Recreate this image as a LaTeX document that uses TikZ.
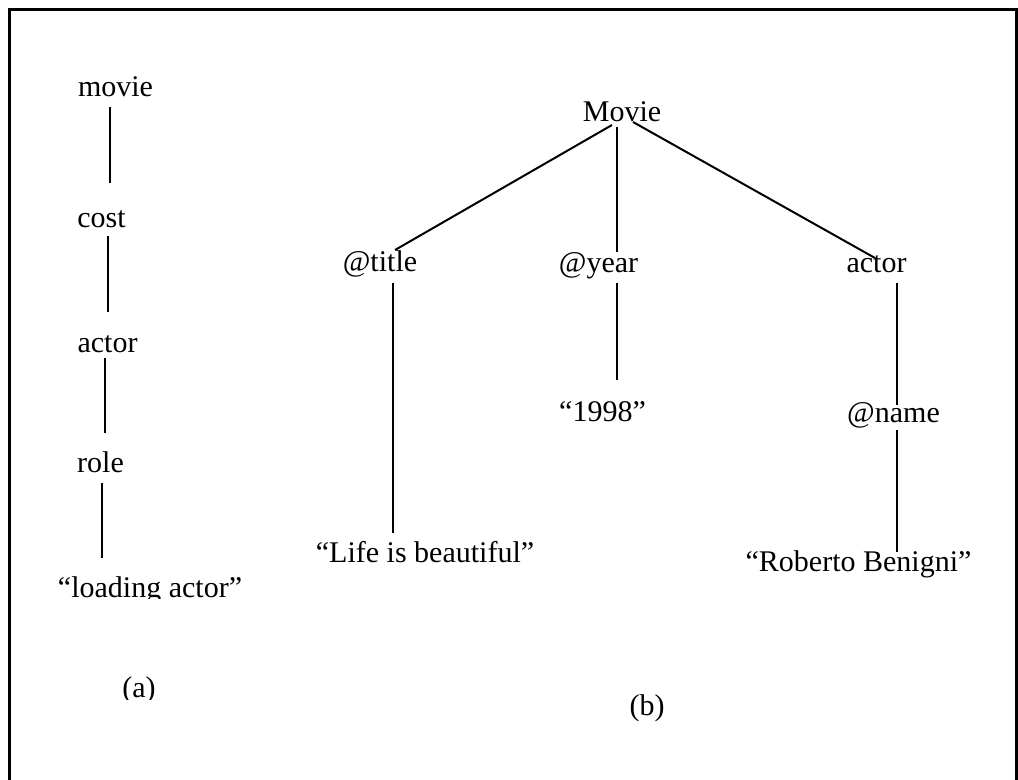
\documentclass[tikz,border=0pt]{standalone}
\usepackage{fontspec}
\setmainfont{Liberation Serif}
\begin{document}
\begin{tikzpicture}[x=0.75pt,y=-0.75pt,
  lbl/.style={inner sep=0pt,anchor=base,font=\fontsize{22.5}{27}\selectfont},
  edge/.style={line width=1.5pt},
  frame/.style={line width=2.25pt}]
\useasboundingbox (0,0) rectangle (1018,780);
\draw[frame] (9.5,780) -- (9.5,9.5) -- (1016.5,9.5) -- (1016.5,780);
% (a) tree
\node[lbl] (movie) at (115.5,97) {movie};
\node[lbl] (cost) at (101.5,228) {cost};
\node[lbl] (actorL) at (107.5,353) {actor};
\node[lbl] (role) at (100.5,473) {role};
\begin{scope}
\clip (0,0) rectangle (1018,598);
\node[lbl] (loading) at (150,597) {“loading actor”};
\end{scope}
\begin{scope}
\clip (0,0) rectangle (1018,699);
\node[lbl] (capa) at (139,697) {(a)};
\end{scope}
\draw[edge] ([shift={(-5.5,10)}]movie.base) -- ([shift={(8.5,-45)}]cost.base);
\draw[edge] ([shift={(6.5,8)}]cost.base) -- ([shift={(0.5,-41)}]actorL.base);
\draw[edge] ([shift={(-2.5,5)}]actorL.base) -- ([shift={(4.5,-40)}]role.base);
\draw[edge] ([shift={(1.5,10)}]role.base) -- ([shift={(-48,-39)}]loading.base);
% (b) tree
\node[lbl] (Movie) at (622,122) {Movie};
\node[lbl] (title) at (380,272) {@title};
\node[lbl] (year) at (598.5,273) {@year};
\node[lbl] (actorR) at (876.5,273) {actor};
\node[lbl] (y1998) at (602.5,422) {“1998”};
\node[lbl] (name) at (893.5,423) {@name};
\node[lbl] (life) at (425,562) {“Life is beautiful”};
\node[lbl] (roberto) at (858.5,571) {“Roberto Benigni”};
\begin{scope}
\clip (0,0) rectangle (1018,721);
\node[lbl] (capb) at (647,715) {(b)};
\end{scope}
\draw[edge] ([shift={(-10,3)}]Movie.base) -- ([shift={(15,-22)}]title.base);
\draw[edge] ([shift={(-5,5)}]Movie.base) -- ([shift={(18.5,-21)}]year.base);
\draw[edge] ([shift={(11,0)}]Movie.base) -- ([shift={(-1.5,-15)}]actorR.base);
\draw[edge] ([shift={(13,11)}]title.base) -- ([shift={(-32,-29)}]life.base);
\draw[edge] ([shift={(18.5,10)}]year.base) -- ([shift={(14.5,-42)}]y1998.base);
\draw[edge] ([shift={(20.5,10)}]actorR.base) -- ([shift={(3.5,-18)}]name.base);
\draw[edge] ([shift={(3.5,7)}]name.base) -- ([shift={(38.5,-19)}]roberto.base);
\end{tikzpicture}
\end{document}
